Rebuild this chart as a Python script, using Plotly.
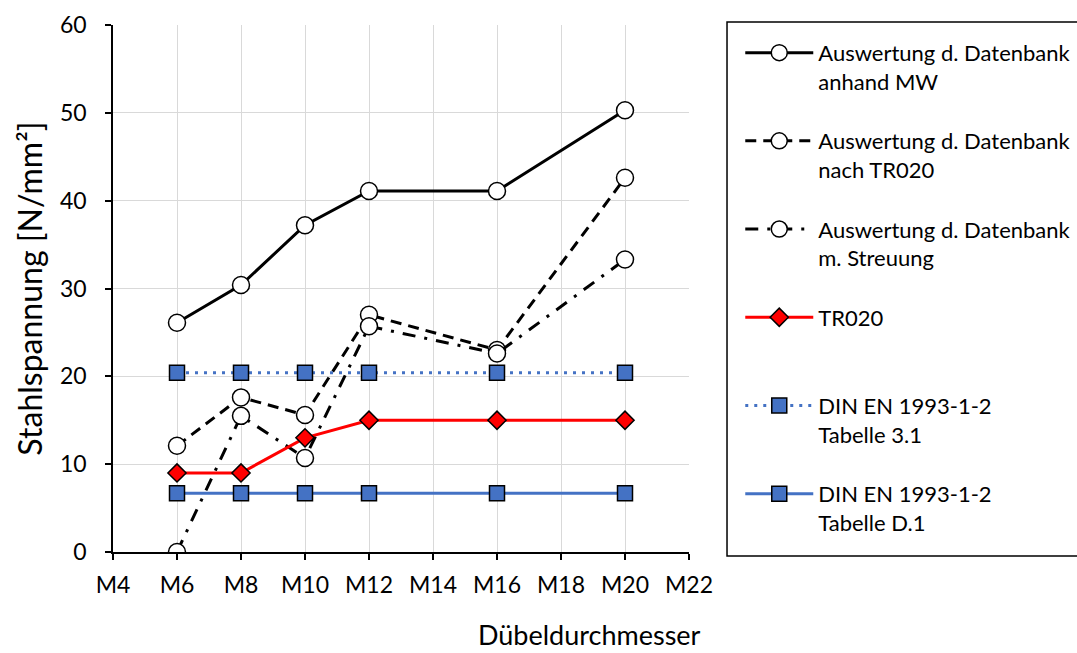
import plotly.graph_objects as go

# Dübeldurchmesser (numeric position of the M-size) and tick labels
x_sizes = [6, 8, 10, 12, 16, 20]
tick_vals = [4, 6, 8, 10, 12, 14, 16, 18, 20, 22]
tick_text = ["M4", "M6", "M8", "M10", "M12", "M14", "M16", "M18", "M20", "M22"]

# Stahlspannung [N/mm²] per series
mw_values = [26.1, 30.4, 37.2, 41.1, 41.1, 50.3]
tr020_db_values = [12.1, 17.6, 15.6, 27.0, 23.0, 42.6]
streuung_values = [0.0, 15.5, 10.7, 25.7, 22.6, 33.3]
tr020_values = [9.0, 9.0, 13.0, 15.0, 15.0, 15.0]
din_31_values = [20.4, 20.4, 20.4, 20.4, 20.4, 20.4]
din_d1_values = [6.7, 6.7, 6.7, 6.7, 6.7, 6.7]

names = [
    "Auswertung d. Datenbank<br>anhand MW",
    "Auswertung d. Datenbank<br>nach TR020",
    "Auswertung d. Datenbank<br>m. Streuung",
    "TR020<br>\u00a0",
    "DIN EN 1993-1-2<br>Tabelle 3.1",
    "DIN EN 1993-1-2<br>Tabelle D.1",
]

FONT = "Lato"
BLUE = "#4472C4"

circle = dict(symbol="circle", size=17, color="white", line=dict(color="black", width=1.5))
square = dict(symbol="square", size=15, color=BLUE, line=dict(color="black", width=1.5))
diamond = dict(symbol="diamond", size=14, color="#FF0000", line=dict(color="black", width=1.5))

fig = go.Figure()
series = [
    (mw_values, dict(color="black", width=3), circle),
    (tr020_db_values, dict(color="black", width=3, dash="11px,7px"), circle),
    (streuung_values, dict(color="black", width=3, dash="13px,9px,3px,9px"), circle),
    (tr020_values, dict(color="#FF0000", width=3), diamond),
    (din_31_values, dict(color=BLUE, width=3, dash="3px,6px"), square),
    (din_d1_values, dict(color=BLUE, width=3), square),
]
for i, (vals, line, marker) in enumerate(series):
    fig.add_trace(go.Scatter(
        x=x_sizes, y=vals, mode="lines+markers", name=names[i],
        line=line, marker=marker, legendgroup=f"g{i}",
    ))

fig.update_layout(
    width=1077, height=653,
    margin=dict(l=113, r=388, t=25, b=101, autoexpand=False),
    paper_bgcolor="white", plot_bgcolor="white",
    font=dict(family=FONT, size=23, color="black"),
    showlegend=True,
    legend=dict(
        x=1.089, xanchor="left", y=0.987, yanchor="top",
        font=dict(family=FONT, size=22, color="black"),
        bgcolor="rgba(0,0,0,0)", borderwidth=0,
        itemwidth=68, valign="top", tracegroupgap=28,
    ),
    xaxis=dict(
        range=[4, 22], tickvals=tick_vals, ticktext=tick_text,
        showgrid=True, gridcolor="#D9D9D9", gridwidth=1,
        showline=True, linecolor="black", linewidth=1.5,
        ticks="outside", ticklen=6, tickcolor="black", tickwidth=1.5,
        zeroline=False, tickfont=dict(size=23), ticklabelstandoff=6,
    ),
    yaxis=dict(
        range=[0, 60], tickvals=[0, 10, 20, 30, 40, 50, 60],
        showgrid=True, gridcolor="#D9D9D9", gridwidth=1,
        showline=True, linecolor="black", linewidth=1.5,
        ticks="outside", ticklen=6, tickcolor="black", tickwidth=1.5,
        zeroline=False, tickfont=dict(size=23), ticklabelstandoff=14,
        title=dict(text="Stahlspannung [N/mm²]", font=dict(size=32), standoff=8),
    ),
    shapes=[dict(
        type="rect", xref="paper", yref="paper",
        x0=1.066, x1=1.69, y0=-0.0076, y1=1.0057,
        line=dict(color="black", width=1.5), fillcolor="rgba(0,0,0,0)",
    )],
    annotations=[dict(
        text="Dübeldurchmesser", xref="paper", yref="paper",
        x=0.828, y=-0.1556, xanchor="center", yanchor="middle",
        showarrow=False, font=dict(size=27),
    )],
)

fig.write_html("out.html")
